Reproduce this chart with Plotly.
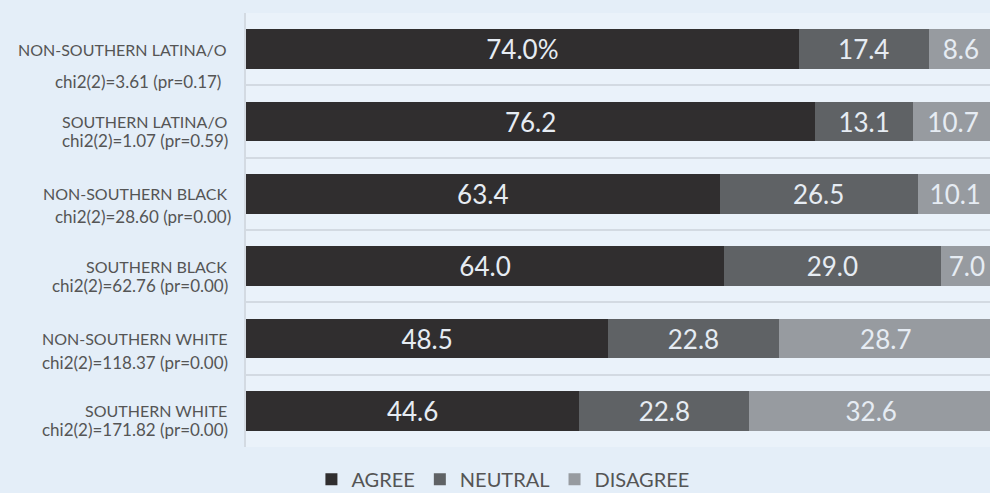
import plotly.graph_objects as go

groups = ["NON-SOUTHERN LATINA/O", "SOUTHERN LATINA/O", "NON-SOUTHERN BLACK",
          "SOUTHERN BLACK", "NON-SOUTHERN WHITE", "SOUTHERN WHITE"]
chi2_labels = ["chi2(2)=3.61 (pr=0.17)", "chi2(2)=1.07 (pr=0.59)", "chi2(2)=28.60 (pr=0.00)",
               "chi2(2)=62.76 (pr=0.00)", "chi2(2)=118.37 (pr=0.00)", "chi2(2)=171.82 (pr=0.00)"]
agree = [74.0, 76.2, 63.4, 64.0, 48.5, 44.6]
neutral = [17.4, 13.1, 26.5, 29.0, 22.8, 22.8]
disagree = [8.6, 10.7, 10.1, 7.0, 28.7, 32.6]
series_names = ["AGREE", "NEUTRAL", "DISAGREE"]

colors = ["#302e2f", "#5f6265", "#979ba0"]
chi_yshift = [-32, -19, -23, -19, -24, -19]
chi_xshift = [-23, -16, -13, -16, -16, -16]

def fmt(vals, first_pct=False):
    out = ["{:.1f}".format(v) for v in vals]
    if first_pct:
        out[0] = out[0] + "%"
    return out

fig = go.Figure()
for name, vals, col, pct in zip(series_names, [agree, neutral, disagree], colors, [True, False, False]):
    fig.add_trace(go.Bar(
        y=groups, x=vals, name=name, orientation="h",
        marker=dict(color=col, line=dict(width=0)),
        text=fmt(vals, pct), textposition="inside", insidetextanchor="middle",
        textfont=dict(family="Lato", size=26, color="#e6ecf3"),
        width=0.55,
    ))

for g, c, ys, xs in zip(groups, chi2_labels, chi_yshift, chi_xshift):
    fig.add_annotation(x=0, xref="paper", y=g, yref="y", text=g, showarrow=False,
                       xanchor="right", yanchor="middle", xshift=-17, yshift=0,
                       font=dict(family="Lato", size=16, color="#555555"))
    fig.add_annotation(x=0, xref="paper", y=g, yref="y", text=c, showarrow=False,
                       xanchor="right", yanchor="middle", xshift=xs, yshift=ys,
                       font=dict(family="Lato", size=17, color="#555555"))

fig.update_layout(
    width=990, height=493,
    autosize=False,
    margin=dict(l=246, r=0, t=13, b=46, autoexpand=False),
    barmode="stack",
    paper_bgcolor="#e4eef8",
    plot_bgcolor="#eaf2fa",
    showlegend=True,
    legend=dict(orientation="h", xref="container", yref="container",
                x=0.508, xanchor="center", y=0.028, yanchor="middle",
                font=dict(family="Lato", size=20, color="#555555"),
                traceorder="normal", bgcolor="rgba(0,0,0,0)"),
)
fig.update_xaxes(range=[0, 99.6], showgrid=False, showticklabels=False, zeroline=False,
                 showline=False, fixedrange=True)
fig.update_yaxes(range=[5.5, -0.5], tickson="boundaries", showgrid=True,
                 gridcolor="#d3dae2", gridwidth=2, showticklabels=False, ticks="",
                 showline=True, linecolor="#d3dae2", linewidth=2, mirror=False,
                 fixedrange=True)

fig.write_html("out.html", config={"displayModeBar": False},
               post_script="document.body.style.margin='0';document.body.style.overflow='hidden';")
